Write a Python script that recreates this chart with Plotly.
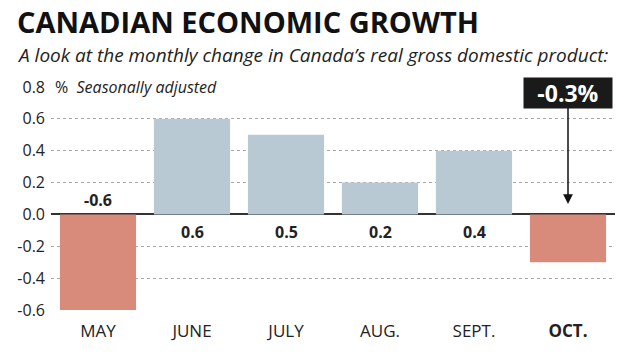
import plotly.graph_objects as go

months = ["MAY", "JUNE", "JULY", "AUG.", "SEPT.", "OCT."]
values = [-0.6, 0.6, 0.5, 0.2, 0.4, -0.3]
value_labels = ["-0.6", "0.6", "0.5", "0.2", "0.4", None]
y_ticks = [-0.6, -0.4, -0.2, 0.0, 0.2, 0.4, 0.6, 0.8]
y_tick_text = ["-0.6", "-0.4", "-0.2", "0.0", "0.2", "0.4", "0.6", "0.8"]
callout_text = "-0.3%"
title_text = "CANADIAN ECONOMIC GROWTH"
subtitle_text = "A look at the monthly change in Canada\u2019s real gross domestic product:"
unit_text = "%  <i>Seasonally adjusted</i>"

BLUE = "#b8c9d3"
RED = "#d98b7b"
FONT = "Open Sans"
W, H = 635, 357
ML, MR, MT, MB = 51, 20, 87, 47
PW, PH = W - ML - MR, H - MT - MB

def px(x):  # window pixel -> paper x
    return (x - ML) / PW

def py(y):  # window pixel -> paper y
    return (H - MB - y) / PH

colors = [RED if v < 0 else BLUE for v in values]
tick_text = [f"<b>{m}</b>" if i == len(months) - 1 else m for i, m in enumerate(months)]

fig = go.Figure()
fig.add_trace(go.Bar(x=list(range(len(months))), y=values,
                     marker=dict(color=colors, line=dict(width=0)), hoverinfo="skip"))

annotations = []
for i, (v, lab) in enumerate(zip(values, value_labels)):
    if lab is None:
        continue
    annotations.append(dict(x=i, y=0, xref="x", yref="y", text=f"<b>{lab}</b>", showarrow=False,
                            yshift=14 if v < 0 else -18,
                            font=dict(family=FONT, size=16, color="#222")))

annotations.append(dict(x=px(15), y=py(0), xref="paper", yref="paper", text=f"<b>{title_text}</b>",
                        showarrow=False, xanchor="left", yanchor="top",
                        font=dict(family=FONT, size=29, weight=800, color="#111")))
annotations.append(dict(x=px(15), y=py(40), xref="paper", yref="paper",
                        text=f"<i>{subtitle_text}</i>",
                        showarrow=False, xanchor="left", yanchor="top",
                        font=dict(family=FONT, size=19, color="#222")))
annotations.append(dict(x=0, y=0.8, xref="paper", yref="y", text=unit_text,
                        showarrow=False, xanchor="left", yanchor="middle", bgcolor="white",
                        borderpad=3, font=dict(family=FONT, size=16, color="#222")))
annotations.append(dict(x=len(months) - 1, y=0.065, xref="x", yref="y",
                        ax=len(months) - 1, ay=0.765, axref="x", ayref="y",
                        text=f"<b>{callout_text}</b>", showarrow=True, arrowhead=2, arrowsize=1.3,
                        arrowwidth=1.5, arrowcolor="#111", bgcolor="#1a1a1a", borderpad=2,
                        width=84, height=26,
                        font=dict(family=FONT, size=23, color="white")))

fig.update_layout(
    width=W, height=H,
    margin=dict(l=ML, r=MR, t=MT, b=MB, autoexpand=False),
    plot_bgcolor="white", paper_bgcolor="white",
    showlegend=False,
    bargap=0.19,
    xaxis=dict(tickmode="array", tickvals=list(range(len(months))), ticktext=tick_text,
               range=[-0.5, len(months) - 0.5], showgrid=False, zeroline=False, showline=False,
               ticks="", ticklabelstandoff=9,
               tickfont=dict(family=FONT, size=17, color="#222")),
    yaxis=dict(tickmode="array", tickvals=y_ticks, ticktext=y_tick_text, range=[-0.6, 0.8],
               showgrid=True, gridcolor="#a8a8a8", griddash="dot", gridwidth=1,
               zeroline=True, zerolinecolor="#333", zerolinewidth=2, showline=False,
               ticks="", ticklabelstandoff=5,
               tickfont=dict(family=FONT, size=16, color="#222")),
    annotations=annotations,
)

fig.write_html("out.html", config={"displayModeBar": False},
               post_script="document.body.style.margin='0px';")
